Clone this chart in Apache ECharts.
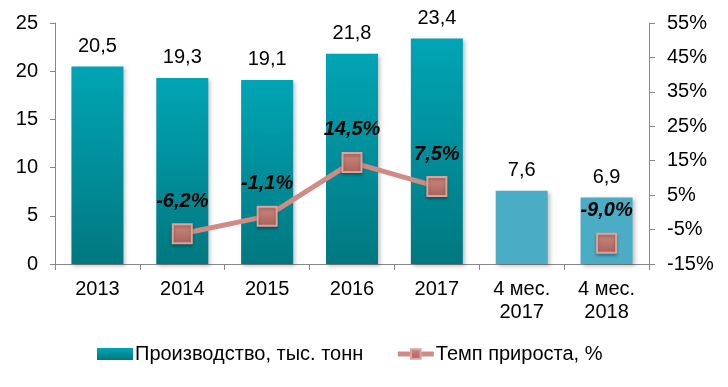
<!DOCTYPE html>
<html><head><meta charset="utf-8">
<script src="https://cdn.jsdelivr.net/npm/echarts@6/dist/echarts.min.js"></script>
<style>html,body{margin:0;padding:0;background:#fff}#c{width:728px;height:387px}</style>
</head><body><div id="c"></div>
<script>
const categories = ['2013','2014','2015','2016','2017','4 мес.\n2017','4 мес.\n2018'];
const production = [20.5, 19.3, 19.1, 21.8, 23.4, 7.6, 6.9];
const growth = [null, -6.2, -1.1, 14.5, 7.5, null, -9.0];
const leftTicks = [0, 5, 10, 15, 20, 25];
const rightTicks = [-15, -5, 5, 15, 25, 35, 45, 55];

const fmt = v => String(v.toFixed(1)).replace('.', ',');
const grad = new echarts.graphic.LinearGradient(0,0,0,1,[{offset:0,color:'#00A5B5'},{offset:1,color:'#007880'}]);
const flat = '#4BACC6';
const font = 'Liberation Sans, Arial, sans-serif';

const chart = echarts.init(document.getElementById('c'));
chart.setOption({
  animation: false,
  textStyle: {fontFamily: font},
  grid: {left: 55, right: 79, top: 23, bottom: 123},
  legend: {
    bottom: 18, left: 92, itemGap: 32, itemWidth: 36, itemHeight: 12,
    textStyle: {fontSize: 20, color: '#000', fontFamily: font, padding: [0, 0, 0, -3]},
    data: [
      {name: 'Производство, тыс. тонн', icon: 'rect', itemStyle: {color: grad}},
      {name: 'Темп прироста, %', lineStyle: {width: 5, color: '#D08C84'}}
    ]
  },
  xAxis: {
    type: 'category', data: categories,
    axisLine: {lineStyle: {color: '#888'}},
    axisTick: {show: true, length: 6, lineStyle: {color: '#888'}},
    axisLabel: {fontSize: 20, color: '#000', margin: 14, lineHeight: 23}
  },
  yAxis: [
    {type: 'value', min: 0, max: 25, interval: 5,
     axisLine: {show: true, lineStyle: {color: '#888'}},
     axisTick: {show: true, length: 5, lineStyle: {color: '#888'}},
     splitLine: {show: false},
     axisLabel: {fontSize: 20, color: '#000', margin: 17}},
    {type: 'value', min: -15, max: 55, interval: 10,
     axisLine: {show: true, lineStyle: {color: '#888'}},
     axisTick: {show: true, length: 6, lineStyle: {color: '#888'}},
     splitLine: {show: false},
     axisLabel: {fontSize: 20, color: '#000', margin: 18, formatter: v => v + '%'}}
  ],
  series: [
    {name: 'Производство, тыс. тонн', type: 'bar', barWidth: 52,
     data: production.map((v, i) => ({value: v, itemStyle: {color: i < 5 ? grad : flat}})),
     itemStyle: {shadowColor: 'rgba(0,0,0,0.25)', shadowBlur: 4, shadowOffsetX: 2, shadowOffsetY: 2},
     label: {show: true, position: 'top', distance: 10, fontSize: 20, color: '#000', formatter: p => fmt(p.value)}},
    {name: 'Темп прироста, %', type: 'line', yAxisIndex: 1, data: growth,
     connectNulls: false,
     symbol: 'rect', symbolSize: 19,
     lineStyle: {color: '#D08C84', width: 5},
     itemStyle: {color: new echarts.graphic.LinearGradient(0,0,0,1,[{offset:0,color:'#CE8A80'},{offset:1,color:'#A9615B'}]), borderColor: '#DCA29B', borderWidth: 2,
                 shadowColor: 'rgba(0,0,0,0.3)', shadowBlur: 3, shadowOffsetY: 2},
     label: {show: true, position: 'top', distance: 12, fontSize: 20, fontWeight: 'bold', fontStyle: 'italic', color: '#000',
             formatter: p => p.value == null ? '' : fmt(p.value) + '%'}}
  ]
});
</script></body></html>
